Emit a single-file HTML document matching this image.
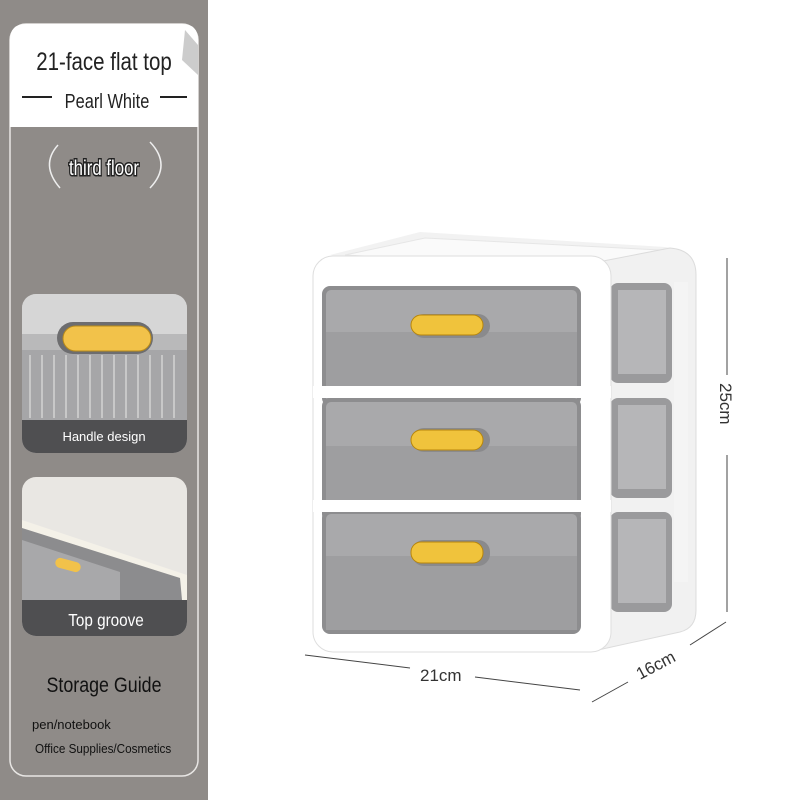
<!DOCTYPE html>
<html><head><style>
body{margin:0;width:800px;height:800px;overflow:hidden;background:#fff;font-family:"Liberation Sans",sans-serif}
</style></head><body>
<svg width="800" height="800" viewBox="0 0 800 800" xmlns="http://www.w3.org/2000/svg" font-family="Liberation Sans, sans-serif">
<rect width="800" height="800" fill="#fff"/>
<rect x="0" y="0" width="208" height="800" fill="#8f8b88"/>
<rect x="10" y="24" width="188" height="752" rx="16" fill="#8f8b88" stroke="#e8e6e4" stroke-width="1.5"/>
<path d="M26 24 H182 Q198 24 198 40 V127 H10 V40 Q10 24 26 24Z" fill="#fff"/>
<path d="M185 30 L198 45 V75 L182 60Z" fill="#ccc"/>
<text x="0" y="0" font-size="25" text-anchor="middle" fill="#222" transform="translate(104 70) scale(0.82,1)">21-face flat top</text>
<line x1="22" y1="97" x2="52" y2="97" stroke="#222" stroke-width="2"/>
<line x1="160" y1="97" x2="187" y2="97" stroke="#222" stroke-width="2"/>
<text x="0" y="0" font-size="20" text-anchor="middle" fill="#222" transform="translate(107 108) scale(0.82,1)">Pearl White</text>
<path d="M58 145 Q40 165 60 188" stroke="#eee" fill="none" stroke-width="1.5"/>
<path d="M150 142 Q172 165 150 188" stroke="#eee" fill="none" stroke-width="1.5"/>
<text x="0" y="0" font-size="21" text-anchor="middle" fill="#fff" stroke="#222" stroke-width="3" paint-order="stroke" transform="translate(104 175) scale(0.8,1)">third floor</text>
<clipPath id="c1"><rect x="22" y="294" width="165" height="159" rx="14"/></clipPath>
<g clip-path="url(#c1)">
<rect x="22" y="294" width="165" height="159" fill="#b9b9ba"/>
<rect x="22" y="294" width="165" height="40" fill="#d6d6d6"/>
<rect x="22" y="350" width="165" height="70" fill="#a6a6a8"/>
<g stroke="#c8c8c8" stroke-width="2"><line x1="30" y1="355" x2="30" y2="418"/><line x1="42" y1="355" x2="42" y2="418"/><line x1="54" y1="355" x2="54" y2="418"/><line x1="66" y1="355" x2="66" y2="418"/><line x1="78" y1="355" x2="78" y2="418"/><line x1="90" y1="355" x2="90" y2="418"/><line x1="102" y1="355" x2="102" y2="418"/><line x1="114" y1="355" x2="114" y2="418"/><line x1="126" y1="355" x2="126" y2="418"/><line x1="138" y1="355" x2="138" y2="418"/><line x1="150" y1="355" x2="150" y2="418"/><line x1="162" y1="355" x2="162" y2="418"/><line x1="174" y1="355" x2="174" y2="418"/></g>
<rect x="57" y="322" width="96" height="32" rx="16" fill="#6d6d6f"/>
<rect x="63" y="326" width="88" height="25" rx="12.5" fill="#f2c24a" stroke="#b88a1a"/>
<rect x="22" y="420" width="165" height="33" fill="#4f4f51"/>
</g>
<text x="104" y="441" font-size="13" text-anchor="middle" fill="#fff">Handle design</text>
<clipPath id="c2"><rect x="22" y="477" width="165" height="159" rx="14"/></clipPath>
<g clip-path="url(#c2)">
<rect x="22" y="477" width="165" height="159" fill="#e9e7e3"/>
<path d="M22 520 L187 575 V600 H22Z" fill="#f4f1e8"/>
<path d="M22 528 L180 578 L182 600 H22Z" fill="#8c8c8e"/>
<path d="M22 540 L120 572 L120 600 H22Z" fill="#a8a8aa"/>
<rect x="55" y="560" width="26" height="10" rx="5" fill="#f2c24a" transform="rotate(15 68 565)"/>
<rect x="22" y="600" width="165" height="36" fill="#4f4f51"/>
</g>
<text x="0" y="0" font-size="18" text-anchor="middle" fill="#fff" transform="translate(106 626) scale(0.85,1)">Top groove</text>
<text x="0" y="0" font-size="21" text-anchor="middle" fill="#111" transform="translate(104 692) scale(0.85,1)">Storage Guide</text>
<text x="32" y="729" font-size="13" fill="#111">pen/notebook</text>
<text x="0" y="0" font-size="13" fill="#111" transform="translate(35 753) scale(0.9,1)">Office Supplies/Cosmetics</text>

<path d="M330 255 L420 232 L665 247 Q690 250 690 275 L688 325 L598 325 Z" fill="#f2f2f2"/>
<path d="M345 255 L425 238 L660 250 L598 268 Z" fill="#fafafa" stroke="#e6e6e6"/>
<path d="M598 262 L670 248 Q696 250 696 275 V610 Q696 628 680 632 L598 650Z" fill="#f1f1f1" stroke="#dcdcdc"/>
<rect x="610" y="283" width="62" height="100" rx="8" fill="#9a9a9c"/>
<rect x="610" y="398" width="62" height="100" rx="8" fill="#9a9a9c"/>
<rect x="610" y="512" width="62" height="100" rx="8" fill="#9a9a9c"/>
<rect x="618" y="290" width="48" height="84" fill="#b6b6b8"/>
<rect x="618" y="405" width="48" height="84" fill="#b6b6b8"/>
<rect x="618" y="519" width="48" height="84" fill="#b6b6b8"/>
<rect x="674" y="282" width="14" height="300" fill="#f4f4f4"/>
<rect x="313" y="256" width="298" height="396" rx="20" fill="#fff" stroke="#dedede"/>
<g>
<rect x="322" y="286" width="259" height="120" rx="8" fill="#8d8d8f"/>
<rect x="326" y="290" width="251" height="112" rx="5" fill="#a9a9ab"/>
<rect x="326" y="332" width="251" height="70" fill="#9e9ea0"/>
<rect x="412" y="314" width="78" height="24" rx="12" fill="#8a8a8c"/>
<rect x="411" y="315" width="72" height="20" rx="10" fill="#f0c33c" stroke="#b8860b"/>
</g>
<g>
<rect x="322" y="398" width="259" height="124" rx="8" fill="#8d8d8f"/>
<rect x="326" y="402" width="251" height="116" rx="5" fill="#a9a9ab"/>
<rect x="326" y="446" width="251" height="72" fill="#9e9ea0"/>
<rect x="412" y="428" width="78" height="24" rx="12" fill="#8a8a8c"/>
<rect x="411" y="430" width="72" height="20" rx="10" fill="#f0c33c" stroke="#b8860b"/>
</g>
<g>
<rect x="322" y="510" width="259" height="124" rx="8" fill="#8d8d8f"/>
<rect x="326" y="514" width="251" height="116" rx="5" fill="#a9a9ab"/>
<rect x="326" y="556" width="251" height="74" fill="#9e9ea0"/>
<rect x="412" y="540" width="78" height="26" rx="12" fill="#8a8a8c"/>
<rect x="411" y="542" width="72" height="21" rx="10" fill="#f0c33c" stroke="#b8860b"/>
</g>
<rect x="313" y="386" width="298" height="12" fill="#fff"/>
<rect x="313" y="500" width="298" height="12" fill="#fff"/>
<line x1="727" y1="258" x2="727" y2="375" stroke="#444"/>
<line x1="727" y1="455" x2="727" y2="612" stroke="#444"/>
<text x="0" y="0" font-size="17" fill="#333" transform="translate(720 383) rotate(90)">25cm</text>
<line x1="305" y1="655" x2="410" y2="668" stroke="#444"/>
<line x1="475" y1="677" x2="580" y2="690" stroke="#444"/>
<text x="420" y="681" font-size="17" fill="#333">21cm</text>
<line x1="592" y1="702" x2="628" y2="682" stroke="#444"/>
<line x1="690" y1="645" x2="726" y2="622" stroke="#444"/>
<text x="0" y="0" font-size="17" fill="#333" transform="translate(640 680) rotate(-28)">16cm</text>
</svg>
</body></html>
